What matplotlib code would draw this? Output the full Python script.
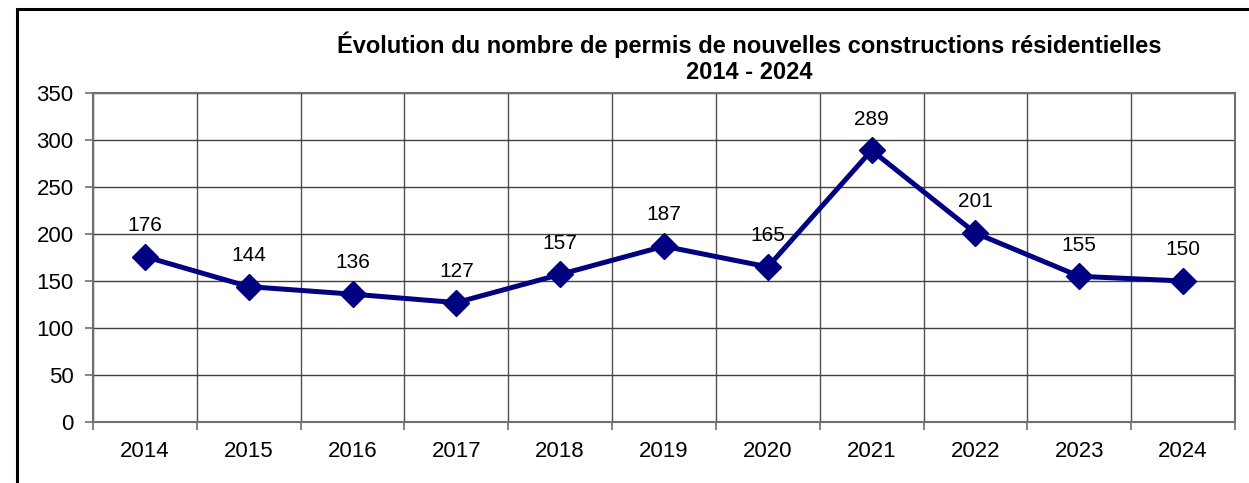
import matplotlib.pyplot as plt
from matplotlib.patches import Rectangle

plt.rcParams['font.family'] = ['Liberation Sans', 'DejaVu Sans']

years = ['2014', '2015', '2016', '2017', '2018', '2019', '2020', '2021', '2022', '2023', '2024']
permis = [176, 144, 136, 127, 157, 187, 165, 289, 201, 155, 150]

fig = plt.figure(figsize=(12.49, 4.83), dpi=100)
ax = fig.add_axes([93 / 1249, 1 - 422 / 483, (1235 - 93) / 1249, (422 - 93) / 483])

# cadre extérieur (seuls les bords haut et gauche sont visibles)
fig.patches.append(Rectangle((17 / 1249, -0.1), 1.2, 1 - 9 / 483 + 0.1,
                             transform=fig.transFigure, fill=False,
                             edgecolor='black', linewidth=2.2, zorder=0))

x = list(range(len(years)))
ax.plot(x, permis, color='#000080', linewidth=3.6, marker='D', markersize=13,
        zorder=3, clip_on=False)

for xi, v in zip(x, permis):
    ax.annotate(str(v), (xi, v), xytext=(0, 22.5), textcoords='offset points',
                ha='center', va='center', fontsize=15)

ax.set_xlim(-0.5, len(years) - 0.5)
ax.set_ylim(0, 350)
ax.set_yticks(range(0, 351, 50))
ax.set_xticks(x)
ax.set_xticklabels(years)
ax.set_xticks([i - 0.5 for i in range(len(years) + 1)], minor=True)

ax.tick_params(axis='x', which='major', length=0, labelsize=16, pad=14)
ax.tick_params(axis='x', which='minor', length=6, width=1.2, color='#707070')
ax.tick_params(axis='y', length=6, width=1.2, color='#707070', labelsize=16, pad=8)

ax.grid(True, axis='y', which='major', color='#404040', linewidth=1)
ax.grid(True, axis='x', which='minor', color='#505050', linewidth=1)
for s in ax.spines.values():
    s.set_color('#707070')
    s.set_linewidth(1.5)

fig.text(749 / 1249, 1 - 45 / 483,
         'Évolution du nombre de permis de nouvelles constructions résidentielles',
         ha='center', va='center', fontsize=17, fontweight='bold')
fig.text(749 / 1249, 1 - 72 / 483, '2014 - 2024',
         ha='center', va='center', fontsize=17, fontweight='bold')

fig.savefig('out.png', dpi=100)
